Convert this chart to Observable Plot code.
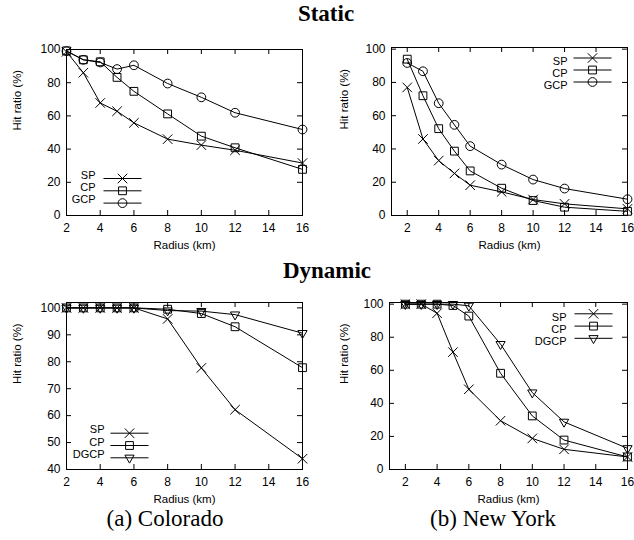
<!DOCTYPE html>
<html><head><meta charset="utf-8">
<script src="https://cdn.jsdelivr.net/npm/d3@7"></script>
<script src="https://cdn.jsdelivr.net/npm/@observablehq/plot@0.6"></script>
<style>
html,body{margin:0;padding:0;background:#fff;width:634px;height:540px;overflow:hidden;position:relative;color:#000}
.t{position:absolute;font-family:"Liberation Serif","Times New Roman",serif;color:#000;white-space:nowrap;transform:translateX(-50%);line-height:1}
.panel{position:absolute}
</style></head><body>
<div class="t" style="left:326px;top:2px;font-size:23px;font-weight:bold">Static</div>
<div class="t" style="left:327px;top:259px;font-size:23px;font-weight:bold">Dynamic</div>
<div class="t" style="left:165px;top:507px;font-size:23px">(a) Colorado</div>
<div class="t" style="left:493px;top:507px;font-size:23px">(b) New York</div>
<div id="p1" class="panel" style="left:0;top:30px"></div>
<div id="p2" class="panel" style="left:317px;top:30px"></div>
<div id="p3" class="panel" style="left:0;top:285px"></div>
<div id="p4" class="panel" style="left:317px;top:285px"></div>
<script>
// ---- data ----
const radius = [2, 3, 4, 5, 6, 8, 10, 12, 16];
const xTickValues = [2, 4, 6, 8, 10, 12, 14, 16];
const yTicksFull = [0, 20, 40, 60, 80, 100];
const yTicksCO = [40, 50, 60, 70, 80, 90, 100];

const staticCO_SP  = [98.6, 86, 67.8, 62.8, 55.8, 46, 42.4, 39.3, 31.6];
const staticCO_CP  = [99.2, 93.8, 92.6, 83.2, 74.8, 61.2, 47.8, 40.8, 27.8];
const staticCO_GCP = [99.0, 93.8, 92.2, 88.2, 90.5, 79.5, 71.2, 61.9, 51.8];

const staticNY_SP  = [77, 46, 33, 25.3, 18.2, 14.2, 9.6, 7.0, 4.0];
const staticNY_CP  = [94, 72, 52.2, 38.7, 26.8, 16.4, 9.0, 5.0, 2.5];
const staticNY_GCP = [91.7, 86.7, 67.5, 54.5, 41.7, 30.6, 21.6, 16.2, 9.8];

const dynCO_SP   = [100, 100, 100, 100, 100, 95.9, 77.7, 62.2, 44.0];
const dynCO_CP   = [100, 100, 100, 100, 100, 99.5, 97.9, 93.0, 77.8];
const dynCO_DGCP = [100, 100, 100, 100, 100, 99.0, 98.8, 97.5, 90.6];

const dynNY_SP   = [100, 100, 94.5, 71, 48.5, 29.5, 18.8, 12.2, 7.6];
const dynNY_CP   = [100, 100, 100, 99.2, 92.8, 58.2, 32.4, 17.8, 7.6];
const dynNY_DGCP = [100, 100, 100, 100, 99.0, 75.8, 46.5, 28.8, 12.8];

const labelsStatic = ["SP", "CP", "GCP"];
const labelsDynamic = ["SP", "CP", "DGCP"];

// ---- helpers ----
const FONT = '"Liberation Sans", Arial, Helvetica, sans-serif';
const lineSym = {draw(ctx) { ctx.moveTo(-19, 0); ctx.lineTo(19, 0); }};
const markerSpecs = [
  {symbol: "times", rotate: 0},
  {symbol: "square", rotate: 0},
  {symbol: "circle", rotate: 0}
];
const markerSpecsDyn = [
  {symbol: "times", rotate: 0},
  {symbol: "square", rotate: 0},
  {symbol: "triangle2", rotate: 180}
];
const R = 4.4;

function panel({el, width, height, ml, mr, mt, mb, xDomain, yDomain, yTicks, series, labels, specs, legend}) {
  const fw = width - ml - mr, fh = height - mt - mb;
  const marks = [];
  series.forEach((vals, i) => {
    const data = radius.map((r, j) => ({r, v: vals[j]}));
    marks.push(Plot.line(data, {x: "r", y: "v", stroke: "black", strokeWidth: 1}));
    marks.push(Plot.dot(data, {x: "r", y: "v", symbol: specs[i].symbol, rotate: specs[i].rotate, r: R, fill: "none", stroke: "black", strokeWidth: 1}));
  });
  // inward mirrored ticks
  marks.push(Plot.tickX(xTickValues, {x: d => d, insetTop: fh - 5, stroke: "black"}));
  marks.push(Plot.tickX(xTickValues, {x: d => d, insetBottom: fh - 5, stroke: "black"}));
  marks.push(Plot.tickY(yTicks, {y: d => d, insetRight: fw - 5, stroke: "black"}));
  marks.push(Plot.tickY(yTicks, {y: d => d, insetLeft: fw - 5, stroke: "black"}));
  marks.push(Plot.frame({stroke: "black", strokeWidth: 1}));
  marks.push(Plot.axisX(xTickValues, {tickSize: 0, tickPadding: 8, label: null, fontSize: 12}));
  marks.push(Plot.axisY(yTicks, {tickSize: 0, tickPadding: 6, label: null, fontSize: 12}));
  marks.push(Plot.text(["Hit ratio (%)"], {text: d => d, frameAnchor: "left", dx: legend.ylabDx, dy: -2, rotate: -90, fontSize: 11.5}));
  marks.push(Plot.text(["Radius (km)"], {text: d => d, frameAnchor: "bottom", dy: 33, fontSize: 11.5}));
  // legend rows
  labels.forEach((lab, i) => {
    const dy = legend.rowsDy[i];
    marks.push(Plot.text([lab], {text: d => d, frameAnchor: legend.anchor, dx: legend.textDx, dy, textAnchor: "end", fontSize: 11, lineHeight: 0.9}));
    marks.push(Plot.dot([lab], {frameAnchor: legend.anchor, dx: legend.lineDx, dy, symbol: lineSym, fill: "none", stroke: "black", strokeWidth: 1, r: R}));
    marks.push(Plot.dot([lab], {frameAnchor: legend.anchor, dx: legend.lineDx, dy, symbol: specs[i].symbol, rotate: specs[i].rotate, r: R, fill: "none", stroke: "black", strokeWidth: 1}));
  });
  const svg = Plot.plot({
    width, height,
    marginLeft: ml, marginRight: mr, marginTop: mt, marginBottom: mb,
    x: {domain: xDomain},
    y: {domain: yDomain},
    style: {fontFamily: FONT, fontSize: "12px", color: "black", background: "white", overflow: "visible"},
    marks
  });
  document.getElementById(el).appendChild(svg);
}

panel({el: "p1", width: 317, height: 230, ml: 66, mr: 15, mt: 19, mb: 45,
  xDomain: [2, 16], yDomain: [0, 100], yTicks: yTicksFull,
  series: [staticCO_SP, staticCO_CP, staticCO_GCP], labels: labelsStatic, specs: markerSpecs,
  legend: {anchor: "bottom-left", textDx: 29, lineDx: 56, rowsDy: [-37, -24.7, -12.4], ylabDx: -49}});

panel({el: "p2", width: 317, height: 230, ml: 74, mr: 7, mt: 17, mb: 45,
  xDomain: [1, 16], yDomain: [0, 101], yTicks: yTicksFull,
  series: [staticNY_SP, staticNY_CP, staticNY_GCP], labels: labelsStatic, specs: markerSpecs,
  legend: {anchor: "top-right", textDx: -60, lineDx: -35, rowsDy: [10.5, 22.5, 34.5], ylabDx: -47}});

panel({el: "p3", width: 317, height: 225, ml: 66, mr: 15, mt: 17, mb: 41,
  xDomain: [2, 16], yDomain: [40, 102], yTicks: yTicksCO,
  series: [dynCO_SP, dynCO_CP, dynCO_DGCP], labels: labelsDynamic, specs: markerSpecsDyn,
  legend: {anchor: "bottom-left", textDx: 38, lineDx: 63, rowsDy: [-36.3, -24, -11.7], ylabDx: -49}});

panel({el: "p4", width: 317, height: 225, ml: 72, mr: 7, mt: 17, mb: 41,
  xDomain: [1, 16], yDomain: [0, 101], yTicks: yTicksFull,
  series: [dynNY_SP, dynNY_CP, dynNY_DGCP], labels: labelsDynamic, specs: markerSpecsDyn,
  legend: {anchor: "top-right", textDx: -61, lineDx: -34, rowsDy: [11.3, 23.6, 35.8], ylabDx: -45}});
</script>
</body></html>
